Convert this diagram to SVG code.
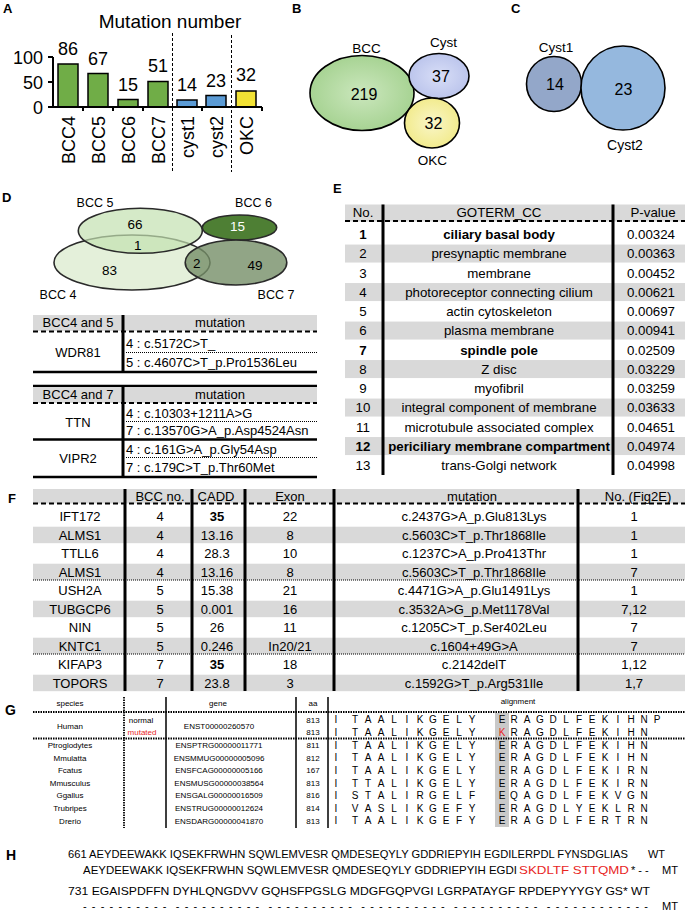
<svg xmlns="http://www.w3.org/2000/svg" width="685" height="913" viewBox="0 0 685 913">
<defs>
<style>
text{font-family:"Liberation Sans",Arial,sans-serif;fill:#000}
.lbl{font-weight:bold;font-size:13px}
.ax{font-size:18px;text-anchor:end}
.bar{stroke:#000;stroke-width:1.5}
.vl{font-size:18px;text-anchor:middle}
.xl{font-size:18px;text-anchor:end}
.dv{stroke:#000;stroke-width:1;stroke-dasharray:3 2;fill:none}
.ven{stroke:#000;stroke-width:1.6}
.vn{font-size:16px;text-anchor:middle}
.vt{font-size:13.5px;text-anchor:middle}
.dn{font-size:13.5px;text-anchor:middle}
.dl{font-size:12.5px;text-anchor:middle}
.t13{font-size:13px}
.c{text-anchor:middle}
.hdr{fill:#d9d9d9}
.dash{stroke:#000;stroke-width:2;stroke-dasharray:5 3;fill:none}
.dot{stroke:#000;stroke-width:1;stroke-dasharray:1 1;fill:none}
.thick{stroke:#000;stroke-width:2.5;fill:none}
.sep{stroke:#000;stroke-width:3;fill:none}
.te{font-size:13.3px}
.b{font-weight:bold}
.g{font-size:8px}
.al{font-size:10px;fill:#222;text-anchor:middle}
.red{fill:#e8251f}
.gdot{stroke:#000;stroke-width:1.8;stroke-dasharray:1.5 1;fill:none}
.gl{stroke:#000;stroke-width:1.5;fill:none}
.h{font-size:11px}
</style>
<radialGradient id="gB" cx="0.5" cy="0.5" r="0.5"><stop offset="0" stop-color="#cbe7bd"/><stop offset="1" stop-color="#a7d393"/></radialGradient>
<radialGradient id="gC" cx="0.5" cy="0.5" r="0.5"><stop offset="0" stop-color="#d8def7"/><stop offset="1" stop-color="#bcc5ec"/></radialGradient>
<radialGradient id="gO" cx="0.5" cy="0.5" r="0.5"><stop offset="0" stop-color="#f9f6c8"/><stop offset="1" stop-color="#f2eb8e"/></radialGradient>
</defs>
<rect width="685" height="913" fill="#fff"/>

<g id="panelA">
<text class="lbl" x="3" y="13">A</text>
<text x="170" y="28" style="font-size:19px" text-anchor="middle">Mutation number</text>
<text class="ax" x="43" y="64">100</text>
<text class="ax" x="43" y="89">50</text>
<text class="ax" x="43" y="114">0</text>
<rect class="bar" x="58" y="64" width="20" height="43" fill="#70ad47"/>
<rect class="bar" x="88" y="73.5" width="20" height="33.5" fill="#70ad47"/>
<rect class="bar" x="118" y="99.5" width="20" height="7.5" fill="#70ad47"/>
<rect class="bar" x="148" y="81.5" width="20" height="25.5" fill="#70ad47"/>
<rect class="bar" x="177" y="100" width="20" height="7" fill="#5b9bd5"/>
<rect class="bar" x="206" y="95.5" width="20" height="11.5" fill="#5b9bd5"/>
<rect class="bar" x="236" y="91" width="20" height="16" fill="#f2e234"/>
<path d="M53,57V107H262M48,57H53M48,82H53M48,107H53M83,107v4M113,107v4M143,107v4M202,107v4M262,107v4" stroke="#000" stroke-width="2" fill="none"/>
<text class="vl" x="68" y="55">86</text>
<text class="vl" x="98" y="65">67</text>
<text class="vl" x="128" y="91">15</text>
<text class="vl" x="158" y="72">51</text>
<text class="vl" x="187" y="91">14</text>
<text class="vl" x="216" y="87">23</text>
<text class="vl" x="246" y="81">32</text>
<text class="xl" transform="translate(74.5,116) rotate(-90)">BCC4</text>
<text class="xl" transform="translate(104.5,116) rotate(-90)">BCC5</text>
<text class="xl" transform="translate(134.5,116) rotate(-90)">BCC6</text>
<text class="xl" transform="translate(164.5,116) rotate(-90)">BCC7</text>
<text class="xl" transform="translate(193.5,116) rotate(-90)">cyst1</text>
<text class="xl" transform="translate(222.5,116) rotate(-90)">cyst2</text>
<text class="xl" transform="translate(252.5,116) rotate(-90)">OKC</text>
<path class="dv" d="M172.5,33V172M231.5,35V172"/>
</g>

<g id="panelB">
<text class="lbl" x="292" y="13">B</text>
<g id="B-BCC"><ellipse class="ven" cx="362" cy="93" rx="52" ry="37.5" fill="url(#gB)"/><text class="vn" x="364" y="100">219</text><text class="vt" x="366.5" y="52.5">BCC</text></g>
<g id="B-Cyst"><ellipse class="ven" cx="439" cy="76" rx="30" ry="22.5" fill="url(#gC)"/><text class="vn" x="441" y="82">37</text><text class="vt" x="443.5" y="46.5">Cyst</text></g>
<g id="B-OKC"><ellipse class="ven" cx="432" cy="123" rx="27.5" ry="25" fill="url(#gO)"/><text class="vn" x="433.5" y="129">32</text><text class="vt" x="432.5" y="165">OKC</text></g>
</g>

<g id="panelC">
<text class="lbl" x="511" y="13">C</text>
<g id="C-Cyst1"><circle class="ven" cx="554" cy="84" r="27.5" fill="#93a7c9"/><text class="vn" x="555" y="90">14</text><text class="vt" x="556" y="52">Cyst1</text></g>
<g id="C-Cyst2"><circle class="ven" cx="623" cy="88" r="42" fill="#95b8de"/><text class="vn" x="623.5" y="95">23</text><text class="vt" style="font-size:14px" x="625" y="149.5">Cyst2</text></g>
</g>

<g id="panelD-venn">
<text class="lbl" x="2" y="202">D</text>
<ellipse cx="132" cy="262.5" rx="78" ry="27.5" fill="#e4f0da" stroke="#2a2a2a" stroke-width="1.6"/>
<ellipse cx="140.3" cy="230.8" rx="62" ry="22.5" fill="#c3e1b0" fill-opacity="0.7" stroke="#2a2a2a" stroke-width="1.6"/>
<ellipse cx="239.5" cy="227.5" rx="37.2" ry="12.5" fill="#4e7f34" stroke="#2a2a2a" stroke-width="1.6"/>
<ellipse cx="236" cy="262.5" rx="50.8" ry="22.5" fill="#768f68" fill-opacity="0.8" stroke="#2a2a2a" stroke-width="1.6"/>
<text class="dn" x="135" y="229">66</text>
<text class="dn" x="137.7" y="250">1</text>
<text class="dn" x="109.5" y="275">83</text>
<text class="dn" x="196.7" y="268">2</text>
<text class="dn" x="255" y="270">49</text>
<text class="dn" x="237.5" y="231" style="fill:#fff">15</text>
<text class="dl" x="95" y="206.7">BCC 5</text>
<text class="dl" x="253.5" y="206.7">BCC 6</text>
<text class="dl" x="58" y="299">BCC 4</text>
<text class="dl" x="276" y="299">BCC 7</text>
</g>

<g id="panelD-table1" class="t13">
<rect class="hdr" x="33" y="315" width="284" height="16"/>
<text class="c" x="78" y="327">BCC4 and 5</text>
<text class="c" x="220" y="327">mutation</text>
<path class="dash" d="M33,331.5H317"/>
<text class="c" x="78" y="357">WDR81</text>
<text x="126" y="347.5">4 : c.5172C&gt;T_</text>
<path class="dot" d="M126,352.5H317"/>
<text x="126" y="366.5">5 : c.4607C&gt;T_p.Pro1536Leu</text>
<path class="thick" d="M33,372H317"/>
<path class="sep" d="M123,315V372"/>
</g>

<g id="panelD-table2" class="t13">
<path class="thick" d="M33,386H317"/>
<rect class="hdr" x="33" y="387" width="284" height="16"/>
<text class="c" x="78" y="399">BCC4 and 7</text>
<text class="c" x="220" y="399">mutation</text>
<path class="dash" d="M33,403H317"/>
<text class="c" x="78" y="426.5">TTN</text>
<text x="126" y="417.5">4 : c.10303+1211A&gt;G</text>
<path class="dot" d="M126,421.5H317"/>
<text x="126" y="435">7 : c.13570G&gt;A_p.Asp4524Asn</text>
<path class="thick" d="M33,439.5H317"/>
<text class="c" x="78" y="463">VIPR2</text>
<text x="126" y="453.5">4 : c.161G&gt;A_p.Gly54Asp</text>
<path class="dot" d="M126,457.5H317"/>
<text x="126" y="472">7 : c.179C&gt;T_p.Thr60Met</text>
<path class="thick" d="M33,477H317"/>
<path class="sep" d="M123,386V477"/>
</g>

<g id="panelE" class="te">
<text class="lbl" x="333" y="193">E</text>
<rect class="hdr" x="345" y="204.5" width="340" height="17"/>
<rect class="hdr" x="345" y="244.55" width="340" height="18"/>
<rect class="hdr" x="345" y="283.05" width="340" height="18"/>
<rect class="hdr" x="345" y="321.55" width="340" height="18"/>
<rect class="hdr" x="345" y="360.05" width="340" height="18"/>
<rect class="hdr" x="345" y="398.55" width="340" height="18"/>
<rect class="hdr" x="345" y="437.05" width="340" height="18"/>
<text class="c" x="363" y="217">No.</text>
<text class="c" x="499" y="217">GOTERM_CC</text>
<text class="c" x="653" y="217">P-value</text>
<path class="dash" d="M345,221H685"/>
<g class="c">
<text class="b" x="363" y="239">1</text><text class="b" x="499" y="239">ciliary basal body</text><text x="651" y="239">0.00324</text>
<text x="363" y="258.25">2</text><text x="499" y="258.25">presynaptic membrane</text><text x="651" y="258.25">0.00363</text>
<text x="363" y="277.5">3</text><text x="499" y="277.5">membrane</text><text x="651" y="277.5">0.00452</text>
<text x="363" y="296.75">4</text><text x="499" y="296.75">photoreceptor connecting cilium</text><text x="651" y="296.75">0.00621</text>
<text x="363" y="316">5</text><text x="499" y="316">actin cytoskeleton</text><text x="651" y="316">0.00697</text>
<text x="363" y="335.25">6</text><text x="499" y="335.25">plasma membrane</text><text x="651" y="335.25">0.00941</text>
<text class="b" x="363" y="354.5">7</text><text class="b" x="499" y="354.5">spindle pole</text><text x="651" y="354.5">0.02509</text>
<text x="363" y="373.75">8</text><text x="499" y="373.75">Z disc</text><text x="651" y="373.75">0.03229</text>
<text x="363" y="393">9</text><text x="499" y="393">myofibril</text><text x="651" y="393">0.03259</text>
<text x="363" y="412.25">10</text><text x="499" y="412.25">integral component of membrane</text><text x="651" y="412.25">0.03633</text>
<text x="363" y="431.5">11</text><text x="499" y="431.5">microtubule associated complex</text><text x="651" y="431.5">0.04651</text>
<text class="b" x="363" y="450.75">12</text><text class="b" x="499" y="450.75">periciliary membrane compartment</text><text x="651" y="450.75">0.04974</text>
<text x="363" y="470">13</text><text x="499" y="470">trans-Golgi network</text><text x="651" y="470">0.04998</text>
</g>
<path class="sep" d="M383,204.5V475M613,204.5V475"/>
</g>

<g id="panelF" class="t13">
<text class="lbl" x="8" y="503">F</text>
<rect class="hdr" x="33" y="489" width="652" height="14.5"/>
<rect class="hdr" x="33" y="526.7" width="652" height="16.5"/>
<rect class="hdr" x="33" y="563.7" width="652" height="16.5"/>
<rect class="hdr" x="33" y="600.7" width="652" height="16.5"/>
<rect class="hdr" x="33" y="637.7" width="652" height="16.5"/>
<rect class="hdr" x="33" y="674.7" width="652" height="16.5"/>
<g class="c">
<text x="160" y="500.5">BCC no.</text><text x="216" y="500.5">CADD</text><text x="290" y="500.5">Exon</text><text x="472" y="500.5">mutation</text><text x="638" y="500.5">No. (Fig2E)</text>
<text x="80" y="521.3">IFT172</text><text x="160" y="521.3">4</text><text class="b" x="217" y="521.3">35</text><text x="290" y="521.3">22</text><text x="474" y="521.3">c.2437G&gt;A_p.Glu813Lys</text><text x="634" y="521.3">1</text>
<text x="80" y="539.8">ALMS1</text><text x="160" y="539.8">4</text><text x="217" y="539.8">13.16</text><text x="290" y="539.8">8</text><text x="474" y="539.8">c.5603C&gt;T_p.Thr1868Ile</text><text x="634" y="539.8">1</text>
<text x="80" y="558.3">TTLL6</text><text x="160" y="558.3">4</text><text x="217" y="558.3">28.3</text><text x="290" y="558.3">10</text><text x="474" y="558.3">c.1237C&gt;A_p.Pro413Thr</text><text x="634" y="558.3">1</text>
<text x="80" y="576.8">ALMS1</text><text x="160" y="576.8">4</text><text x="217" y="576.8">13.16</text><text x="290" y="576.8">8</text><text x="474" y="576.8">c.5603C&gt;T_p.Thr1868Ile</text><text x="634" y="576.8">7</text>
<text x="80" y="595.3">USH2A</text><text x="160" y="595.3">5</text><text x="217" y="595.3">15.38</text><text x="290" y="595.3">21</text><text x="474" y="595.3">c.4471G&gt;A_p.Glu1491Lys</text><text x="634" y="595.3">1</text>
<text x="80" y="613.8">TUBGCP6</text><text x="160" y="613.8">5</text><text x="217" y="613.8">0.001</text><text x="290" y="613.8">16</text><text x="474" y="613.8">c.3532A&gt;G_p.Met1178Val</text><text x="634" y="613.8">7,12</text>
<text x="80" y="632.3">NIN</text><text x="160" y="632.3">5</text><text x="217" y="632.3">26</text><text x="290" y="632.3">11</text><text x="474" y="632.3">c.1205C&gt;T_p.Ser402Leu</text><text x="634" y="632.3">7</text>
<text x="80" y="650.8">KNTC1</text><text x="160" y="650.8">5</text><text x="217" y="650.8">0.246</text><text x="290" y="650.8">In20/21</text><text x="474" y="650.8">c.1604+49G&gt;A</text><text x="634" y="650.8">7</text>
<text x="80" y="669.3">KIFAP3</text><text x="160" y="669.3">7</text><text class="b" x="217" y="669.3">35</text><text x="290" y="669.3">18</text><text x="474" y="669.3">c.2142delT</text><text x="634" y="669.3">1,12</text>
<text x="80" y="687.8">TOPORS</text><text x="160" y="687.8">7</text><text x="217" y="687.8">23.8</text><text x="290" y="687.8">3</text><text x="474" y="687.8">c.1592G&gt;T_p.Arg531Ile</text><text x="634" y="687.8">1,7</text>
</g>
<path class="dash" d="M33,503.5H685"/>
<path class="dot" d="M33,580H685M33,654H685" stroke-width="1.5"/>
<path class="sep" d="M125,489V691M192,489V691M245,489V691M334,489V691M578,489V691"/>
</g>

<g id="panelG" class="g">
<text class="lbl" x="5" y="715" style="font-size:14px">G</text>
<rect x="495" y="713" width="14" height="114" fill="#c9c9c9"/>
<g class="c">
<text x="70" y="706">species</text><text x="218" y="706">gene</text><text x="313" y="706">aa</text><text x="518" y="704">alignment</text>
<text x="70" y="728.5">Human</text>
<text x="141" y="722.5">normal</text><text class="red" x="142" y="735">mutated</text>
<text x="219" y="728.5">ENST00000260570</text>
<text x="313" y="722.5">813</text><text x="313" y="735">813</text>
<text x="70" y="748">Ptroglodytes</text><text x="219" y="748">ENSPTRG00000011771</text><text x="313" y="748">811</text>
<text x="70" y="760.6">Mmulatta</text><text x="219" y="760.6">ENSMMUG00000005096</text><text x="313" y="760.6">812</text>
<text x="70" y="773.2">Fcatus</text><text x="219" y="773.2">ENSFCAG00000005166</text><text x="313" y="773.2">167</text>
<text x="70" y="785.8">Mmusculus</text><text x="219" y="785.8">ENSMUSG00000038564</text><text x="313" y="785.8">813</text>
<text x="70" y="798.4">Ggallus</text><text x="219" y="798.4">ENSGALG00000016509</text><text x="313" y="798.4">816</text>
<text x="70" y="811">Trubripes</text><text x="219" y="811">ENSTRUG00000012624</text><text x="313" y="811">814</text>
<text x="70" y="823.6">Drerio</text><text x="219" y="823.6">ENSDARG00000041870</text><text x="313" y="823.6">813</text>
</g>
<g class="al">
<text y="723.2"><tspan x="336">I</tspan><tspan x="355">T</tspan><tspan x="368">A</tspan><tspan x="381">A</tspan><tspan x="394">L</tspan><tspan x="407">I</tspan><tspan x="420">K</tspan><tspan x="433">G</tspan><tspan x="446">E</tspan><tspan x="459">L</tspan><tspan x="472">Y</tspan><tspan x="502">E</tspan><tspan x="514">R</tspan><tspan x="527">A</tspan><tspan x="540">G</tspan><tspan x="553">D</tspan><tspan x="566">L</tspan><tspan x="579">F</tspan><tspan x="592">E</tspan><tspan x="605">K</tspan><tspan x="618">I</tspan><tspan x="631">H</tspan><tspan x="644">N</tspan><tspan x="657">P</tspan></text>
<text y="735.7"><tspan x="336">I</tspan><tspan x="355">T</tspan><tspan x="368">A</tspan><tspan x="381">A</tspan><tspan x="394">L</tspan><tspan x="407">I</tspan><tspan x="420">K</tspan><tspan x="433">G</tspan><tspan x="446">E</tspan><tspan x="459">L</tspan><tspan x="472">Y</tspan><tspan x="502" class="red">K</tspan><tspan x="514">R</tspan><tspan x="527">A</tspan><tspan x="540">G</tspan><tspan x="553">D</tspan><tspan x="566">L</tspan><tspan x="579">F</tspan><tspan x="592">E</tspan><tspan x="605">K</tspan><tspan x="618">I</tspan><tspan x="631">H</tspan><tspan x="644">N</tspan></text>
<text y="748.7"><tspan x="336">I</tspan><tspan x="355">T</tspan><tspan x="368">A</tspan><tspan x="381">A</tspan><tspan x="394">L</tspan><tspan x="407">I</tspan><tspan x="420">K</tspan><tspan x="433">G</tspan><tspan x="446">E</tspan><tspan x="459">L</tspan><tspan x="472">Y</tspan><tspan x="502">E</tspan><tspan x="514">R</tspan><tspan x="527">A</tspan><tspan x="540">G</tspan><tspan x="553">D</tspan><tspan x="566">L</tspan><tspan x="579">F</tspan><tspan x="592">E</tspan><tspan x="605">K</tspan><tspan x="618">I</tspan><tspan x="631">H</tspan><tspan x="644">N</tspan></text>
<text y="761.3"><tspan x="336">I</tspan><tspan x="355">T</tspan><tspan x="368">A</tspan><tspan x="381">A</tspan><tspan x="394">L</tspan><tspan x="407">I</tspan><tspan x="420">K</tspan><tspan x="433">G</tspan><tspan x="446">E</tspan><tspan x="459">L</tspan><tspan x="472">Y</tspan><tspan x="502">E</tspan><tspan x="514">R</tspan><tspan x="527">A</tspan><tspan x="540">G</tspan><tspan x="553">D</tspan><tspan x="566">L</tspan><tspan x="579">F</tspan><tspan x="592">E</tspan><tspan x="605">K</tspan><tspan x="618">I</tspan><tspan x="631">H</tspan><tspan x="644">N</tspan></text>
<text y="773.9"><tspan x="336">I</tspan><tspan x="355">T</tspan><tspan x="368">A</tspan><tspan x="381">A</tspan><tspan x="394">L</tspan><tspan x="407">I</tspan><tspan x="420">K</tspan><tspan x="433">G</tspan><tspan x="446">E</tspan><tspan x="459">L</tspan><tspan x="472">Y</tspan><tspan x="502">E</tspan><tspan x="514">R</tspan><tspan x="527">A</tspan><tspan x="540">G</tspan><tspan x="553">D</tspan><tspan x="566">L</tspan><tspan x="579">F</tspan><tspan x="592">E</tspan><tspan x="605">K</tspan><tspan x="618">I</tspan><tspan x="631">R</tspan><tspan x="644">N</tspan></text>
<text y="786.5"><tspan x="336">I</tspan><tspan x="355">T</tspan><tspan x="368">T</tspan><tspan x="381">A</tspan><tspan x="394">L</tspan><tspan x="407">I</tspan><tspan x="420">K</tspan><tspan x="433">G</tspan><tspan x="446">E</tspan><tspan x="459">L</tspan><tspan x="472">Y</tspan><tspan x="502">E</tspan><tspan x="514">R</tspan><tspan x="527">A</tspan><tspan x="540">G</tspan><tspan x="553">D</tspan><tspan x="566">L</tspan><tspan x="579">F</tspan><tspan x="592">E</tspan><tspan x="605">K</tspan><tspan x="618">I</tspan><tspan x="631">R</tspan><tspan x="644">N</tspan></text>
<text y="799.1"><tspan x="336">I</tspan><tspan x="355">S</tspan><tspan x="368">T</tspan><tspan x="381">A</tspan><tspan x="394">L</tspan><tspan x="407">I</tspan><tspan x="420">R</tspan><tspan x="433">G</tspan><tspan x="446">E</tspan><tspan x="459">L</tspan><tspan x="472">F</tspan><tspan x="502">E</tspan><tspan x="514">Q</tspan><tspan x="527">A</tspan><tspan x="540">G</tspan><tspan x="553">D</tspan><tspan x="566">L</tspan><tspan x="579">F</tspan><tspan x="592">E</tspan><tspan x="605">K</tspan><tspan x="618">V</tspan><tspan x="631">G</tspan><tspan x="644">N</tspan></text>
<text y="811.7"><tspan x="336">I</tspan><tspan x="355">V</tspan><tspan x="368">A</tspan><tspan x="381">S</tspan><tspan x="394">L</tspan><tspan x="407">I</tspan><tspan x="420">K</tspan><tspan x="433">G</tspan><tspan x="446">E</tspan><tspan x="459">F</tspan><tspan x="472">Y</tspan><tspan x="502">E</tspan><tspan x="514">R</tspan><tspan x="527">A</tspan><tspan x="540">G</tspan><tspan x="553">D</tspan><tspan x="566">L</tspan><tspan x="579">Y</tspan><tspan x="592">E</tspan><tspan x="605">K</tspan><tspan x="618">L</tspan><tspan x="631">R</tspan><tspan x="644">N</tspan></text>
<text y="824.3"><tspan x="336">I</tspan><tspan x="355">T</tspan><tspan x="368">A</tspan><tspan x="381">A</tspan><tspan x="394">L</tspan><tspan x="407">I</tspan><tspan x="420">K</tspan><tspan x="433">G</tspan><tspan x="446">E</tspan><tspan x="459">F</tspan><tspan x="472">Y</tspan><tspan x="502">E</tspan><tspan x="514">R</tspan><tspan x="527">A</tspan><tspan x="540">G</tspan><tspan x="553">D</tspan><tspan x="566">L</tspan><tspan x="579">F</tspan><tspan x="592">E</tspan><tspan x="605">R</tspan><tspan x="618">T</tspan><tspan x="631">R</tspan><tspan x="644">N</tspan></text>
</g>
<path class="gdot" d="M33,712H685M33,738.5H685"/>
<path class="gdot" d="M124,697V828" stroke-width="1.5"/>
<path class="gl" d="M166,697V828M296,697V828M328,697V828"/>
</g>

<g id="panelH" class="h">
<text class="lbl" x="6" y="860" style="font-size:14px">H</text>
<text x="68" y="858" textLength="560" lengthAdjust="spacingAndGlyphs">661 AEYDEEWAKK IQSEKFRWHN SQWLEMVESR QMDESEQYLY GDDRIEPYIH EGDILERPDL FYNSDGLIAS</text>
<text x="648" y="858" textLength="17" lengthAdjust="spacingAndGlyphs">WT</text>
<text x="83" y="874" textLength="434" lengthAdjust="spacingAndGlyphs">AEYDEEWAKK IQSEKFRWHN SQWLEMVESR QMDESEQYLY GDDRIEPYIH EGDI</text>
<text class="red" x="519" y="874" textLength="110" lengthAdjust="spacingAndGlyphs">SKDLTF STTQMD</text>
<text x="631" y="874">* - -</text>
<text x="662" y="874" textLength="16" lengthAdjust="spacingAndGlyphs">MT</text>
<text x="68" y="895" textLength="582" lengthAdjust="spacingAndGlyphs">731 EGAISPDFFN DYHLQNGDVV GQHSFPGSLG MDGFGQPVGI LGRPATAYGF RPDEPYYYGY GS* WT</text>
<text x="83" y="910" xml:space="preserve" textLength="565" lengthAdjust="spacing">- - - - - - - - - -  - - - - - - - - - -  - - - - - - - - - -  - - - - - - - - - -  - - - - - - - - - -  - - - - - - - - - - - -</text>
<text x="662" y="910" textLength="16" lengthAdjust="spacingAndGlyphs">MT</text>
</g>
</svg>
